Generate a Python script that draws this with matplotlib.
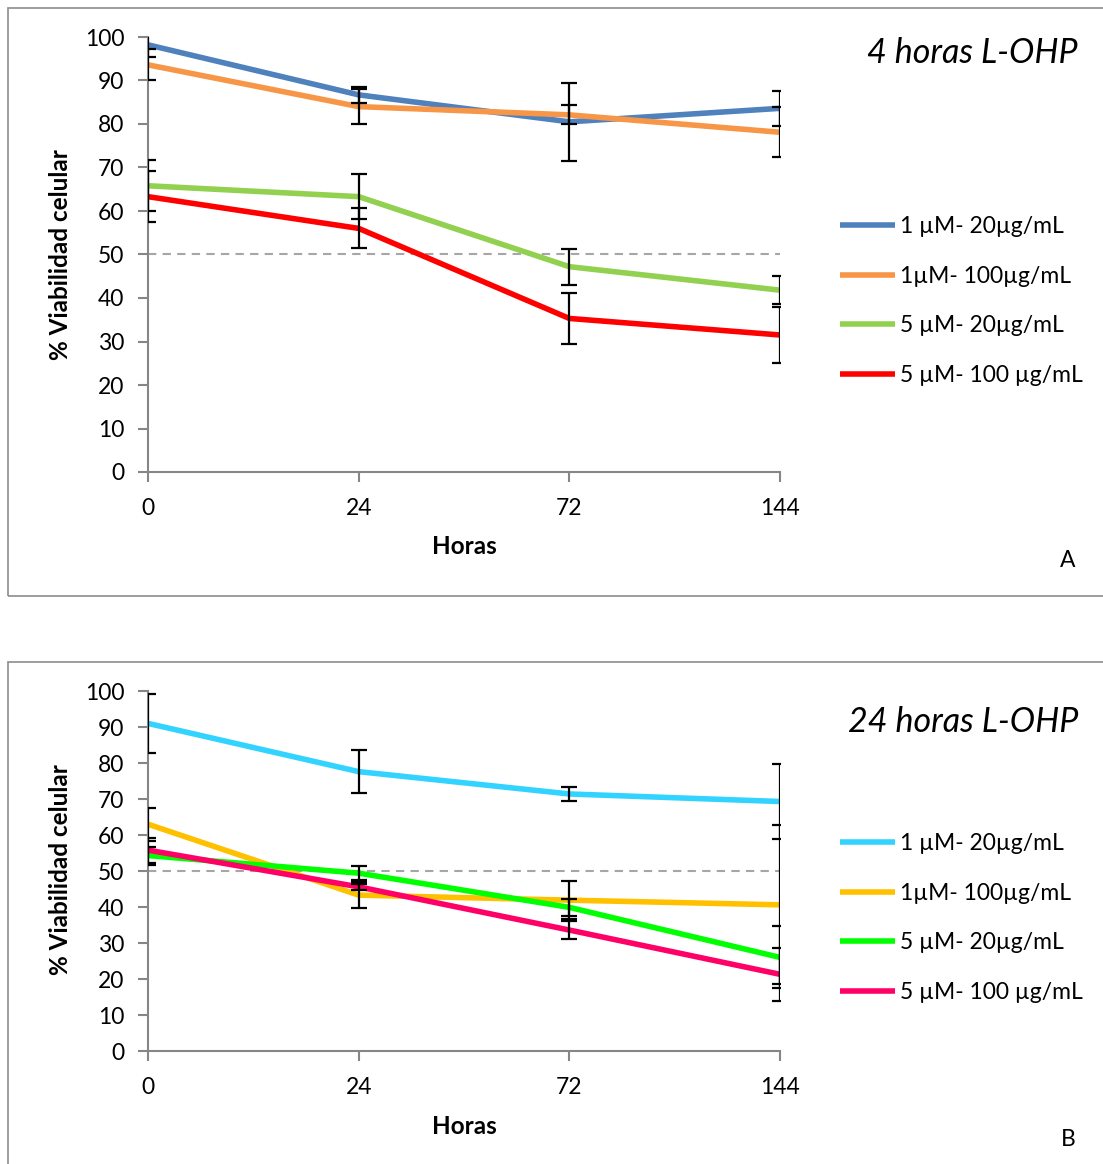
import matplotlib.pyplot as plt
from matplotlib.patches import Rectangle

# data
horas = ['0', '24', '72', '144']

# panel A: 4 horas L-OHP
a_labels = ['1 µM- 20µg/mL', '1µM- 100µg/mL', '5 µM- 20µg/mL', '5 µM- 100 µg/mL']
a_vals = [
    [98.2, 86.7, 80.5, 83.6],
    [93.6, 84.0, 82.1, 78.1],
    [65.8, 63.3, 47.2, 41.8],
    [63.3, 56.0, 35.3, 31.5],
]
a_err = [
    [2.9, 1.9, 8.9, 4.0],
    [3.6, 4.0, 2.2, 5.8],
    [5.9, 5.1, 4.1, 3.2],
    [5.9, 4.6, 5.9, 6.4],
]
a_colors = ['#4F81BD', '#F79646', '#92D050', '#FF0000']

# panel B: 24 horas L-OHP
b_labels = a_labels
b_vals = [
    [91.0, 77.6, 71.4, 69.3],
    [63.0, 43.3, 41.9, 40.6],
    [54.3, 49.4, 39.9, 26.0],
    [55.8, 45.6, 33.6, 21.3],
]
b_err = [
    [8.2, 6.0, 1.9, 10.3],
    [4.6, 3.7, 5.2, 22.1],
    [2.5, 1.9, 2.3, 8.6],
    [3.5, 0.8, 2.4, 7.3],
]
b_colors = ['#33D3FF', '#FFC000', '#00FF00', '#FF0066']

plt.rcParams['font.family'] = ['Lato', 'DejaVu Sans']
GRAY = '#868686'

fig = plt.figure(figsize=(11.03, 11.64), dpi=100)

# panel frames
fig.patches.append(Rectangle((8/1103, 1-596/1164), 1.1, 588/1164, transform=fig.transFigure,
                             fill=False, ec='#8c8c8c', lw=1.2))
fig.patches.append(Rectangle((8/1103, -0.1), 1.1, 0.1+(1164-662)/1164, transform=fig.transFigure,
                             fill=False, ec='#8c8c8c', lw=1.2))


def panel(rect, vals, errs, colors, labels, title, letter, title_y, letter_y, xlab_y, leg_y, ylab_y):
    ax = fig.add_axes(rect)
    x = range(len(horas))
    ax.axhline(50, color='#A6A6A6', lw=1.5, ls=(0, (4, 3)), zorder=1)
    for v, e, c, l in zip(vals, errs, colors, labels):
        ax.plot(x, v, color=c, lw=4.0, label=l, zorder=3, solid_capstyle='butt')
        ax.errorbar(x, v, yerr=e, fmt='none', ecolor='black', elinewidth=1.6,
                    capsize=6, capthick=1.6, zorder=4)
    ax.set_xlim(0, 3)
    ax.set_ylim(0, 100)
    ax.set_yticks(range(0, 101, 10))
    ax.set_xticks(list(x))
    ax.set_xticklabels(horas)
    for s in ['top', 'right']:
        ax.spines[s].set_visible(False)
    for s in ['left', 'bottom']:
        ax.spines[s].set_color(GRAY)
        ax.spines[s].set_linewidth(1.5)
    ax.tick_params(axis='both', colors=GRAY, labelcolor='black', labelsize=16.5,
                   length=7, width=1.5)
    ax.tick_params(axis='y', pad=10)
    ax.tick_params(axis='x', pad=12)
    fig.text(464/1103, 1-xlab_y/1164, 'Horas', ha='center', va='center',
             fontsize=17.5, fontweight='bold')
    fig.text(60/1103, 1-ylab_y/1164, '% Viabilidad celular', ha='center', va='center',
             rotation=90, fontsize=17.5, fontweight='bold')
    fig.text(1078/1103, 1-title_y/1164, title, ha='right', va='center',
             fontsize=24.5, style='italic')
    fig.text(1068/1103, 1-letter_y/1164, letter, ha='center', va='center', fontsize=16.5)
    fig.legend(*ax.get_legend_handles_labels(), loc='center left',
               bbox_to_anchor=(840/1103, 1-leg_y/1164), frameon=False, fontsize=16.5,
               handlelength=2.4, handletextpad=0.2, labelspacing=1.25,
               borderpad=0, borderaxespad=0)
    return ax


panel([148/1103, 1-472/1164, 632/1103, 435/1164], a_vals, a_err, a_colors, a_labels,
      '4 horas L-OHP', 'A', 53, 560, 547, 301, 255)
panel([148/1103, 1-1051/1164, 632/1103, 360/1164], b_vals, b_err, b_colors, b_labels,
      '24 horas L-OHP', 'B', 722, 1140, 1126, 918, 870)

fig.savefig('out.png', dpi=100)
